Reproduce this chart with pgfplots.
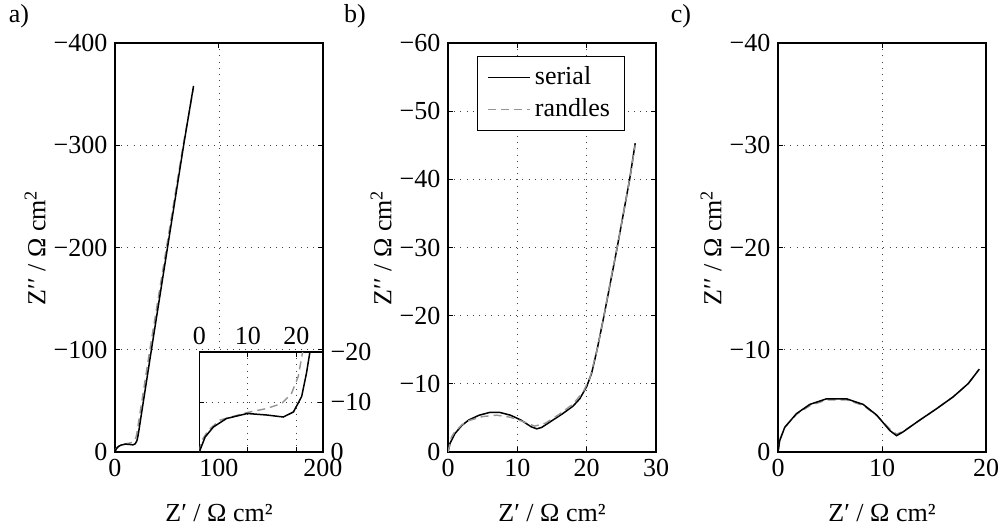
\documentclass[border=0pt,11pt]{standalone}
\usepackage{fontspec}
\setmainfont{Liberation Serif}
\newcommand{\tickfont}{\fontsize{13}{15}\selectfont}
\usepackage{pgfplots}
\pgfplotsset{compat=1.18}

\pgfplotsset{
  matlab/.style={
    scale only axis,
    y dir=reverse,
    axis line style={line width=0.6pt},
    tick align=inside,
    major tick length=2.5pt,
    tick style={black, line width=0.5pt},
    grid=major,
    major grid style={black!75, dash pattern=on 0.5pt off 2.6pt, line width=0.45pt},
    ticklabel style={font=\tickfont},
    clip=true,
  },
  mainax/.style={
    matlab,
    width=104pt, height=204.5pt,
    anchor=south west,
    xlabel={Z′ / Ω cm²},
    ylabel={Z′′ / Ω cm\textsuperscript{2}},
    xlabel style={font=\tickfont},
    ylabel style={font=\tickfont},
    xlabel shift=6pt,
    ylabel shift=-3.5pt,
  },
  ser/.style={black, solid, line width=0.75pt},
  ran/.style={black!42, dash pattern=on 4pt off 2.5pt, line width=0.7pt},
}

\begin{document}
\begin{tikzpicture}
\path[use as bounding box] (0,0) rectangle (503pt,265pt);

% ---------------- panel a ----------------
\begin{axis}[mainax, at={(57.5pt,39pt)},
  xmin=0, xmax=200, ymin=-400, ymax=0,
  xtick={0,100,200}, xticklabels={0,100,200},
  ytick={-400,-300,-200,-100,0}, yticklabels={−400,−300,−200,−100,0}]
\addplot[ran] coordinates {(0,0) (0.5,-2.3) (1.9,-4.4) (4.3,-6.4) (9.9,-7.9) (13.9,-8.7) (17,-9.7) (19,-11.7) (20.4,-15.1) (21.3,-20) (33.5,-100) (49.5,-200) (65.5,-300) (75.5,-356)};
\addplot[ser] coordinates {(0,0) (1.2,-3.0) (2.9,-5.0) (5.6,-6.7) (9.9,-7.7) (13.9,-7.4) (17.3,-7.0) (19.4,-8.0) (21.1,-11.1) (22.1,-15.8) (22.8,-20) (35,-100) (50.5,-200) (66,-300) (75.5,-358)};
\end{axis}

% inset
\begin{axis}[matlab, width=61.85pt, height=50pt, at={(99.65pt,39pt)}, anchor=south west,
  axis background/.style={fill=white},
  xmin=0, xmax=25.5, ymin=-20, ymax=0,
  xtick={0,10,20}, xticklabels={0,10,20},
  ytick={-20,-10,0}, yticklabels={−20,−10,0},
  xticklabel pos=upper, yticklabel pos=right]
\addplot[ran] coordinates {(0,0) (0.5,-2.3) (1.9,-4.4) (4.3,-6.4) (9.9,-7.9) (13.9,-8.7) (17,-9.7) (19,-11.7) (20.4,-15.1) (21.3,-20) (33.5,-100)};
\addplot[ser] coordinates {(0,0) (1.2,-3.0) (2.9,-5.0) (5.6,-6.7) (9.9,-7.7) (13.9,-7.4) (17.3,-7.0) (19.4,-8.0) (21.1,-11.1) (22.1,-15.8) (22.8,-20) (35,-100)};
\end{axis}

% ---------------- panel b ----------------
\begin{axis}[mainax, at={(224pt,39pt)},
  xmin=0, xmax=30, ymin=-60, ymax=0,
  xtick={0,10,20,30}, xticklabels={0,10,20,30},
  ytick={-60,-50,-40,-30,-20,-10,0}, yticklabels={−60,−50,−40,−30,−20,−10,0},
  legend style={at={(0.139,0.968)}, anchor=north west, draw=black, line width=0.5pt,
    font=\tickfont, inner xsep=5pt, inner ysep=3pt, row sep=1.5pt},
  legend cell align=left,
  legend image code/.code={\draw[#1] (0pt,0pt) -- (21pt,0pt);}]
\addplot[ser] coordinates {(0,0) (0.3,-1.3) (1,-2.7) (2,-3.9) (3,-4.7) (4.5,-5.4) (6,-5.8) (7.5,-5.8) (9,-5.4) (10.5,-4.7) (12,-3.7) (12.8,-3.4) (13.5,-3.6) (15,-4.6) (16.5,-5.6) (18,-6.7) (19,-7.8) (20,-9.6) (20.7,-11.5) (21.5,-15) (22.5,-20) (23.45,-25) (24.4,-30) (25.3,-35) (26.2,-40) (27,-45.3)};
\addlegendentry{serial}
\addplot[ran] coordinates {(0,0) (0.5,-2.2) (1,-3) (2,-4) (3,-4.6) (5,-5.2) (7,-5.4) (9,-5.1) (11,-4.4) (12.5,-3.8) (14,-4.2) (16,-5.5) (18,-7) (19.5,-8.8) (20.5,-11) (21.5,-15) (22.5,-20) (23.5,-25.5) (24.4,-30) (25.3,-35) (26.2,-40) (27,-45)};
\addlegendentry{randles}
\end{axis}

% ---------------- panel c ----------------
\begin{axis}[mainax, at={(389pt,39pt)},
  xmin=0, xmax=20, ymin=-40, ymax=0,
  xtick={0,10,20}, xticklabels={0,10,20},
  ytick={-40,-30,-20,-10,0}, yticklabels={−40,−30,−20,−10,0}]
\addplot[ran] coordinates {(0,0) (0.2,-1.3) (0.7,-2.5) (1.8,-3.7) (3.1,-4.55) (4.7,-5.1) (6.6,-5.1) (8.2,-4.55) (9.5,-3.55) (10.8,-2.2) (11.4,-1.75) (12.1,-2.05) (13.6,-3.1) (15.2,-4.2) (16.85,-5.4) (18.3,-6.7) (19.35,-8.1)};
\addplot[ser] coordinates {(0,0) (0.16,-1.1) (0.64,-2.4) (1.77,-3.75) (3.05,-4.65) (4.65,-5.2) (6.6,-5.2) (8.2,-4.65) (9.5,-3.6) (10.75,-2.1) (11.4,-1.6) (12,-1.95) (13.6,-3.1) (15.2,-4.2) (16.85,-5.4) (18.3,-6.7) (19.35,-8.1)};
\end{axis}

\node[font=\tickfont] at (9.5pt,257pt) {a)};
\node[font=\tickfont] at (177.5pt,257pt) {b)};
\node[font=\tickfont] at (340.5pt,257pt) {c)};
\end{tikzpicture}
\end{document}
